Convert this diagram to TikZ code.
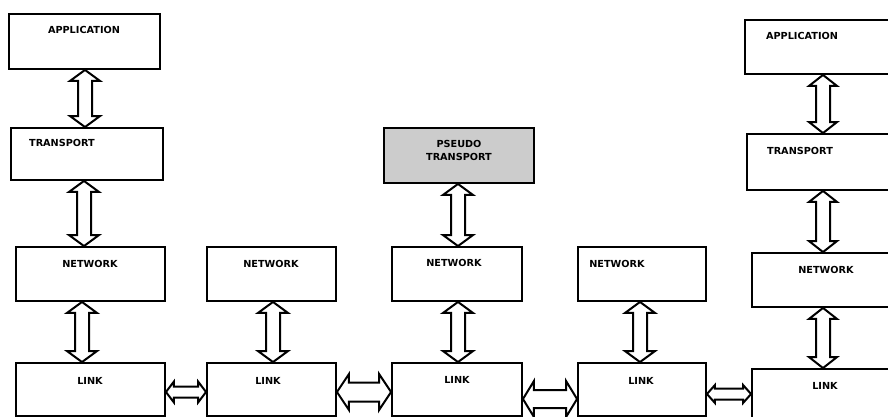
\documentclass[tikz,border=0pt]{standalone}
\usepackage{fontspec}
\setmainfont{DejaVu Sans}
\usetikzlibrary{calc}

\tikzset{
  box/.style={draw=black, line width=1.9pt, rectangle, inner sep=0pt},
  shaded/.style={box, fill=black!20},
  lbl/.style={font=\fontsize{9.7}{10}\selectfont\bfseries, inner sep=0pt, align=center},
  arrowline/.style={draw=black, fill=white, line width=2pt, line join=miter}
}

% hollow two-headed arrow, vertical: top point, bottom point, shaft half-width, head half-width, head length
\newcommand\vdbl[5]{%
  \draw[arrowline] let \p1=#1, \p2=#2 in
    (\x1,\y1) -- ({\x1+#4},{\y1-#5}) -- ({\x1+#3},{\y1-#5}) -- ({\x1+#3},{\y2+#5})
    -- ({\x1+#4},{\y2+#5}) -- (\x1,\y2) -- ({\x1-#4},{\y2+#5}) -- ({\x1-#3},{\y2+#5})
    -- ({\x1-#3},{\y1-#5}) -- ({\x1-#4},{\y1-#5}) -- cycle;}
% hollow two-headed arrow, horizontal: left point, right point, shaft half-height, head half-height, head length
\newcommand\hdbl[5]{%
  \draw[arrowline] let \p1=#1, \p2=#2 in
    (\x1,\y1) -- ({\x1+#5},{\y1+#4}) -- ({\x1+#5},{\y1+#3}) -- ({\x2-#5},{\y1+#3})
    -- ({\x2-#5},{\y1+#4}) -- (\x2,\y1) -- ({\x2-#5},{\y1-#4}) -- ({\x2-#5},{\y1-#3})
    -- ({\x1+#5},{\y1-#3}) -- ({\x1+#5},{\y1-#4}) -- cycle;}

\begin{document}
\begin{tikzpicture}[x=1pt, y=-1pt]
\useasboundingbox (0,0) rectangle (888,417);
\clip (0,0) rectangle (888,417);

% layer boxes
\node[box, minimum width=151pt, minimum height=55pt] (app1) at (84.5,41.5) {};
\node[box, minimum width=152pt, minimum height=52pt] (tr1) at (87,154) {};
\node[box, minimum width=149pt, minimum height=54pt] (net1) at (90.5,274) {};
\node[box, minimum width=149pt, minimum height=53pt] (link1) at (90.5,389.5) {};

\node[box, minimum width=129pt, minimum height=54pt] (net2) at (271.5,274) {};
\node[box, minimum width=129pt, minimum height=53pt] (link2) at (271.5,389.5) {};

\node[shaded, minimum width=150pt, minimum height=55pt] (pseudo) at (459,155.5) {};
\node[box, minimum width=130pt, minimum height=54pt] (net3) at (457,274) {};
\node[box, minimum width=130pt, minimum height=53pt] (link3) at (457,389.5) {};

\node[box, minimum width=128pt, minimum height=54pt] (net4) at (642,274) {};
\node[box, minimum width=128pt, minimum height=53pt] (link4) at (642,389.5) {};

\node[box, minimum width=156pt, minimum height=54pt] (app5) at (823,47) {};
\node[box, minimum width=152pt, minimum height=56pt] (tr5) at (823,162) {};
\node[box, minimum width=142pt, minimum height=54pt] (net5) at (823,280) {};
\node[box, minimum width=142pt, minimum height=53pt] (link5) at (823,395.5) {};

% labels
\node[lbl] (app1t) at (84,30) {APPLICATION};
\node[lbl] (tr1t) at (62,143) {TRANSPORT};
\node[lbl] (net1t) at (90,264) {NETWORK};
\node[lbl] (link1t) at (90,381) {LINK};
\node[lbl] (net2t) at (271,264) {NETWORK};
\node[lbl] (link2t) at (268,381) {LINK};
\node[lbl] (pseudot) at (459,150.5) {PSEUDO\\[3pt]TRANSPORT};
\node[lbl] (net3t) at (454,263) {NETWORK};
\node[lbl] (link3t) at (457,380) {LINK};
\node[lbl] (net4t) at (617,264) {NETWORK};
\node[lbl] (link4t) at (641,381) {LINK};
\node[lbl] (app5t) at (802,36) {APPLICATION};
\node[lbl] (tr5t) at (800,151) {TRANSPORT};
\node[lbl] (net5t) at (826,270) {NETWORK};
\node[lbl] (link5t) at (825,386) {LINK};

% arrow lanes
\coordinate (ca) at (85,0);
\coordinate (cb) at (84,0);
\coordinate (cc) at (82,0);
\coordinate (c2) at (273,0);
\coordinate (c3) at (458,0);
\coordinate (c4) at (640,0);
\coordinate (c5) at (823,0);
\coordinate (h12) at (0,392);
\coordinate (h23) at (0,392);
\coordinate (h34) at (0,399);
\coordinate (h45) at (0,394);

% vertical interfaces
\vdbl{(app1.south -| ca)}{(tr1.north -| ca)}{7pt}{15pt}{11pt}
\vdbl{(tr1.south -| cb)}{(net1.north -| cb)}{7pt}{15pt}{11pt}
\vdbl{(net1.south -| cc)}{(link1.north -| cc)}{7pt}{15pt}{11pt}
\vdbl{(net2.south -| c2)}{(link2.north -| c2)}{7pt}{15pt}{11pt}
\vdbl{(pseudo.south -| c3)}{(net3.north -| c3)}{7pt}{15pt}{11pt}
\vdbl{(net3.south -| c3)}{(link3.north -| c3)}{7pt}{15pt}{11pt}
\vdbl{(net4.south -| c4)}{(link4.north -| c4)}{7pt}{15pt}{11pt}
\vdbl{(app5.south -| c5)}{(tr5.north -| c5)}{7pt}{14pt}{11pt}
\vdbl{(tr5.south -| c5)}{(net5.north -| c5)}{7pt}{14pt}{11pt}
\vdbl{(net5.south -| c5)}{(link5.north -| c5)}{7pt}{14pt}{11pt}

% links between neighbouring nodes
\hdbl{(link1.east |- h12)}{(link2.west |- h12)}{5.5pt}{10.5pt}{8pt}
\hdbl{(link2.east |- h23)}{(link3.west |- h23)}{9.5pt}{18pt}{12pt}
\hdbl{(link3.east |- h34)}{(link4.west |- h34)}{9pt}{18pt}{11pt}
\hdbl{(link4.east |- h45)}{(link5.west |- h45)}{5.5pt}{9pt}{8pt}
\end{tikzpicture}
\end{document}
